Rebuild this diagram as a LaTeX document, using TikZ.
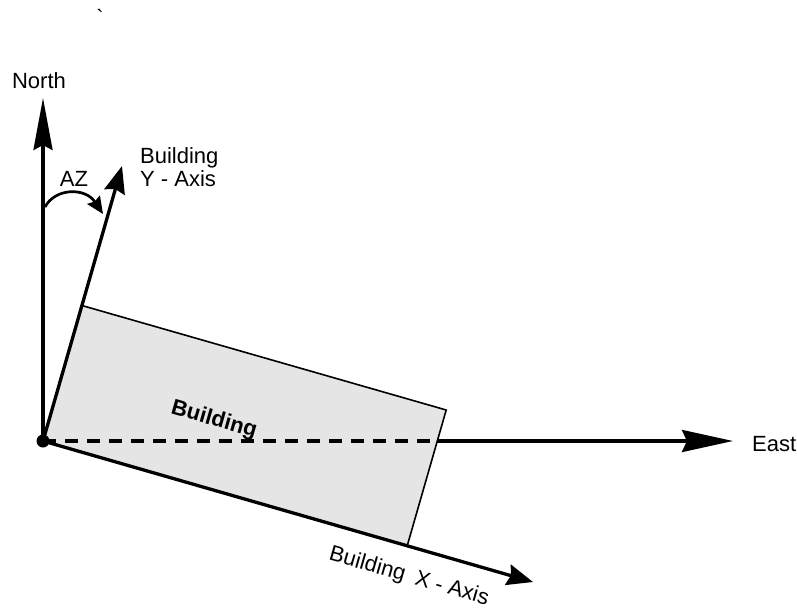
\documentclass[tikz,border=0pt]{standalone}
\usepackage{fontspec}
\setmainfont{Liberation Sans}
\usetikzlibrary{arrows.meta}
\definecolor{bldgray}{HTML}{E5E5E5}
\begin{document}
\begin{tikzpicture}[x=1pt,y=-1pt,
  lbl/.style={font=\fontsize{22}{23}\selectfont, inner sep=0pt},
  axis/.style={line width=3.3pt},
  ntip/.style={-{Stealth[length=52pt,width=19pt,inset=5pt]}},
  etip/.style={-{Stealth[length=51pt,width=22pt,inset=5pt]}},
  ytip/.style={-{Stealth[length=27pt,width=21pt,inset=3pt]}},
  xtip/.style={-{Stealth[length=26pt,width=21pt,inset=3pt]}},
  atip/.style={-{Stealth[length=17pt,width=15pt,inset=2pt]}}]
\useasboundingbox (0,0) rectangle (797,610);
% key points
\coordinate (O) at (43,441);
\coordinate (NT) at (43,98);
\coordinate (YT) at (122,166);
\coordinate (XT) at (533,582);
\coordinate (ET) at (733,441);
\coordinate (R1) at (407.3,545.5);
\coordinate (R2) at (446.2,410);
\coordinate (R3) at (81.9,305.5);
\coordinate (DE) at (437.3,441);
\coordinate (A1) at (45,207);
\coordinate (A2) at (103,214);
% building
\draw[line width=1.6pt, fill=bldgray] (O) -- (R1) -- (R2) -- (R3) -- cycle;
\draw[line width=3.3pt, dash pattern=on 13pt off 9pt] (O) -- (DE);
\draw[axis, etip] (DE) -- (ET);
\draw[axis, ntip] (O) -- (NT);
\draw[axis, ytip] (O) -- (YT);
\draw[axis, xtip] (O) -- (XT);
\draw[line width=2.7pt, atip] (A1) .. controls (55,188) and (85,187) .. (A2);
\fill (O) circle (6.5pt);
% labels
\node[lbl, anchor=base] (stray) at (100,26) {\textasciigrave};
\node[lbl, anchor=base] (north) at (39,88) {North};
\node[lbl, anchor=north west, align=left] (yax) at (140,147) {Building\\Y - Axis};
\node[lbl, anchor=base] (az) at (74,186) {AZ};
\node[lbl, anchor=base west] (east) at (752,451) {East};
\node[lbl, font=\fontsize{22}{23}\selectfont\bfseries, rotate=-16] (bname) at (214,420) {Building};
\node[lbl, rotate=-16] (xax) at (409,577) {Building\hspace{0.5em}X - Axis};
\end{tikzpicture}
\end{document}
